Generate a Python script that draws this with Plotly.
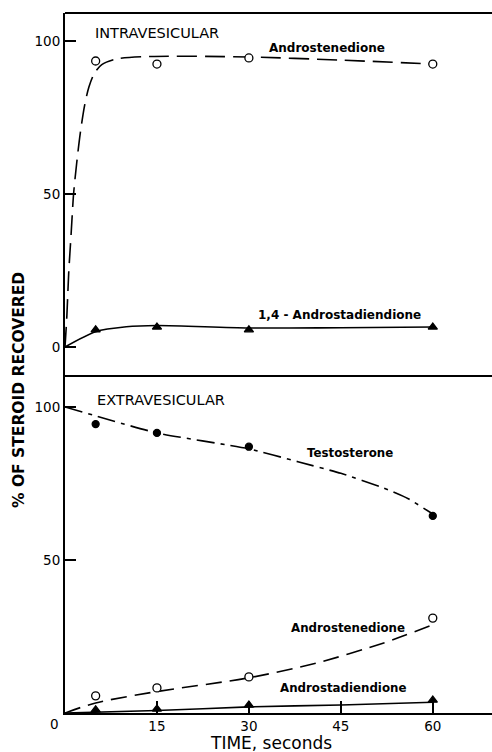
import plotly.graph_objects as go

# ---- data ----
time_pts = [5, 15, 30, 60]

# Intravesicular panel
intra_andro_pts = [93.5, 92.5, 94.5, 92.5]
intra_andro_curve_x = [0, 0.3, 0.6, 1.0, 1.4, 1.9, 2.5, 3.2, 3.9, 4.8, 6.0, 8.5, 14, 30, 45, 60]
intra_andro_curve_y = [0, 10, 24, 37, 50, 60, 70, 79, 85, 89.5, 92.3, 94.2, 95, 94.8, 93.8, 92.5]

intra_adiene_pts = [5.6, 6.5, 5.6, 6.5]
intra_adiene_curve_x = [0, 5, 10, 15, 30, 45, 60]
intra_adiene_curve_y = [0, 5, 6.6, 7, 6.2, 6.3, 6.5]

# Extravesicular panel
extra_testo_pts = [94.4, 91.5, 87, 64.4]
extra_testo_curve_x = [0, 15, 30, 38, 45, 52, 56, 60]
extra_testo_curve_y = [100, 91.5, 86.3, 82.1, 78.3, 73.5, 70.0, 65]

extra_andro_pts = [5.6, 8.2, 11.8, 31]
extra_andro_curve_x = [0, 5, 15, 30, 41, 52, 60]
extra_andro_curve_y = [0, 3.3, 7, 11.5, 16.3, 22.9, 28.8]

extra_adiene_pts = [1.0, 1.3, 2.6, 4.2]
extra_adiene_curve_x = [0, 15, 30, 45, 60]
extra_adiene_curve_y = [0, 0.8, 2.0, 2.6, 3.5]

x_ticks = [15, 30, 45, 60]
y_ticks_top = [0, 50, 100]
y_ticks_bottom = [50, 100]

BLACK = "black"
FONT = "DejaVu Sans"

fig = go.Figure()

def curve(x, y, dash, yaxis, smoothing=0.8):
    fig.add_trace(go.Scatter(x=x, y=y, mode="lines", yaxis=yaxis,
                             line=dict(color=BLACK, width=1.6, dash=dash, shape="spline", smoothing=smoothing),
                             hoverinfo="skip", showlegend=False))

def marks(y, symbol, size, fill, yaxis):
    fig.add_trace(go.Scatter(x=time_pts, y=y, mode="markers", yaxis=yaxis,
                             marker=dict(symbol=symbol, size=size, color=fill,
                                         line=dict(color=BLACK, width=1.3)),
                             showlegend=False))

# top panel
curve(intra_andro_curve_x, intra_andro_curve_y, "20px,8px", "y")
curve(intra_adiene_curve_x, intra_adiene_curve_y, "solid", "y")
marks(intra_andro_pts, "circle", 8, "white", "y")
marks(intra_adiene_pts, "triangle-up", 8, BLACK, "y")

# bottom panel
curve(extra_testo_curve_x, extra_testo_curve_y, "18px,6px,4px,6px", "y2", smoothing=0.5)
curve(extra_andro_curve_x, extra_andro_curve_y, "16px,8px", "y2")
curve(extra_adiene_curve_x, extra_adiene_curve_y, "solid", "y2")
marks(extra_testo_pts, "circle", 7, BLACK, "y2")
marks(extra_andro_pts, "circle", 8, "white", "y2")
marks(extra_adiene_pts, "triangle-up", 8, BLACK, "y2")

split = 337 / 700

axis_common = dict(showgrid=False, zeroline=False, showline=True, linecolor=BLACK, linewidth=2,
                   ticks="inside", tickcolor=BLACK, tickwidth=1.5,
                   tickfont=dict(family=FONT, size=13.5, color=BLACK))

fig.update_layout(
    width=492, height=752, autosize=False,
    margin=dict(l=65, r=0, t=13, b=39),
    paper_bgcolor="white", plot_bgcolor="white",
    xaxis=dict(range=[0, 69.66], domain=[0, 1], anchor="y2", tickvals=x_ticks,
               ticktext=[str(v) for v in x_ticks], ticklen=12, **axis_common),
    yaxis=dict(range=[-9.5, 109.2], domain=[split, 1], anchor="x", tickvals=y_ticks_top,
               ticktext=[str(v) for v in y_ticks_top], ticklen=11, **axis_common),
    yaxis2=dict(range=[0, 110.1], domain=[0, split], anchor="x", tickvals=y_ticks_bottom,
                ticktext=[str(v) for v in y_ticks_bottom], ticklen=11, **axis_common),
    shapes=[
        dict(type="line", xref="paper", yref="paper", x0=0, x1=1, y0=1, y1=1,
             line=dict(color=BLACK, width=2)),
        dict(type="line", xref="paper", yref="paper", x0=0, x1=1, y0=split, y1=split,
             line=dict(color=BLACK, width=2)),
    ],
)

ann = []
def label(text, x, y, yref, size=12, bold=True, xanchor="center"):
    ann.append(dict(text=f"<b>{text}</b>" if bold else text, x=x, y=y, xref="x", yref=yref,
                    xanchor=xanchor, yanchor="middle", showarrow=False,
                    font=dict(family=FONT, size=size, color=BLACK)))

label("INTRAVESICULAR", 4.57, 102.6, "y", size=14.5, bold=False, xanchor="left")
label("Androstenedione", 42.8, 97.7, "y", size=12)
label("1,4 - Androstadiendione", 44.7, 10.5, "y", size=12)
label("EXTRAVESICULAR", 4.9, 102.3, "y2", size=14.5, bold=False, xanchor="left")
label("Testosterone", 46.5, 85.0, "y2", size=11.8)
label("Androstenedione", 46.1, 27.8, "y2", size=11.8)
label("Androstadiendione", 45.3, 8.2, "y2", size=11.8)

ann.append(dict(text="0", x=(54 - 65) / 427, y=(713 - 724) / 700, xref="paper", yref="paper",
                xanchor="center", yanchor="middle", showarrow=False,
                font=dict(family=FONT, size=13.5, color=BLACK)))
ann.append(dict(text="<b>% OF STEROID RECOVERED</b>", x=(19 - 65) / 427, y=(713 - 390) / 700,
                xref="paper", yref="paper", textangle=-90, xanchor="center", yanchor="middle",
                showarrow=False, font=dict(family=FONT, size=15.5, color=BLACK)))
ann.append(dict(text="TIME, seconds", x=(271 - 65) / 427, y=(713 - 743) / 700,
                xref="paper", yref="paper", xanchor="center", yanchor="middle",
                showarrow=False, font=dict(family=FONT, size=17, color=BLACK)))
fig.update_layout(annotations=ann)

fig.write_html("out.html")
